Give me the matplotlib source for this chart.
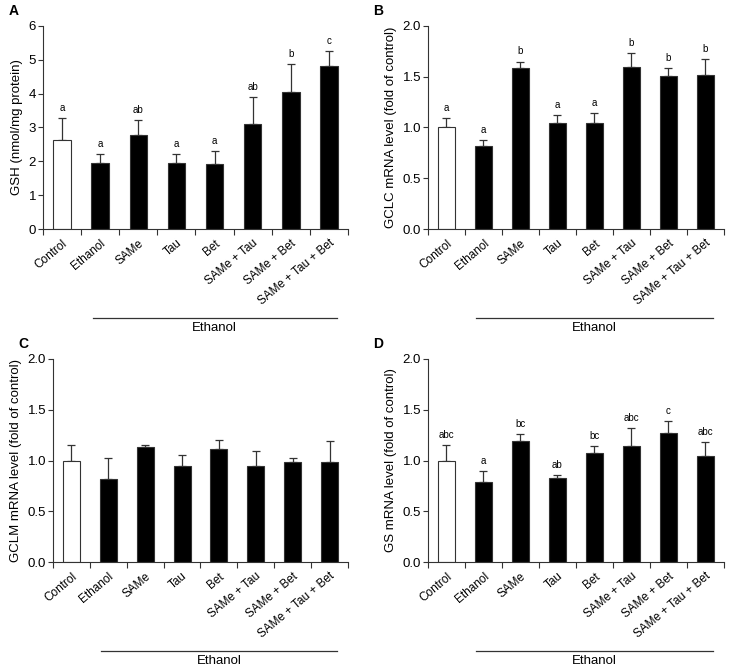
import matplotlib
matplotlib.use("Agg")
import matplotlib.pyplot as plt
import matplotlib.transforms as mtransforms
import numpy as np

plt.rcParams['font.family'] = ['Liberation Sans', 'DejaVu Sans']

groups = ["Control", "Ethanol", "SAMe", "Tau", "Bet",
          "SAMe + Tau", "SAMe + Bet", "SAMe + Tau + Bet"]

# panel A: GSH
gsh_mean = [2.62, 1.94, 2.78, 1.94, 1.93, 3.11, 4.05, 4.82]
gsh_err = [0.65, 0.28, 0.45, 0.27, 0.37, 0.80, 0.83, 0.45]
gsh_sig = ["a", "a", "ab", "a", "a", "ab", "b", "c"]

# panel B: GCLC
gclc_mean = [1.00, 0.82, 1.59, 1.04, 1.04, 1.60, 1.51, 1.52]
gclc_err = [0.09, 0.06, 0.06, 0.08, 0.10, 0.13, 0.08, 0.15]
gclc_sig = ["a", "a", "b", "a", "a", "b", "b", "b"]

# panel C: GCLM
gclm_mean = [1.00, 0.82, 1.13, 0.95, 1.11, 0.95, 0.99, 0.99]
gclm_err = [0.15, 0.20, 0.02, 0.10, 0.09, 0.14, 0.03, 0.20]
gclm_sig = None

# panel D: GS
gs_mean = [1.00, 0.79, 1.19, 0.83, 1.07, 1.14, 1.27, 1.04]
gs_err = [0.15, 0.11, 0.07, 0.03, 0.07, 0.18, 0.12, 0.14]
gs_sig = ["abc", "a", "bc", "ab", "bc", "abc", "c", "abc"]

panels = [
    ("A", gsh_mean, gsh_err, gsh_sig, "GSH (nmol/mg protein)", 6, [0, 1, 2, 3, 4, 5, 6], "{:.0f}",
     [0.0588, 0.6587, 0.4172, 0.3026]),
    ("B", gclc_mean, gclc_err, gclc_sig, "GCLC mRNA level (fold of control)", 2.0, [0, 0.5, 1.0, 1.5, 2.0], "{:.1f}",
     [0.5855, 0.6587, 0.4049, 0.3026]),
    ("C", gclm_mean, gclm_err, gclm_sig, "GCLM mRNA level (fold of control)", 2.0, [0, 0.5, 1.0, 1.5, 2.0], "{:.1f}",
     [0.0725, 0.1624, 0.4035, 0.3026]),
    ("D", gs_mean, gs_err, gs_sig, "GS mRNA level (fold of control)", 2.0, [0, 0.5, 1.0, 1.5, 2.0], "{:.1f}",
     [0.5855, 0.1624, 0.4049, 0.3026]),
]

fig = plt.figure(figsize=(7.31, 6.71), dpi=100)
edge = "#333333"

for letter, mean, err, sig, ylabel, ymax, yticks, fmt, pos in panels:
    ax = fig.add_axes(pos)
    x = np.arange(len(groups))
    colors = ["white"] + ["black"] * (len(groups) - 1)
    ax.bar(x, mean, width=0.46, color=colors, edgecolor=edge, linewidth=0.8, zorder=2)
    ax.errorbar(x, mean, yerr=[np.zeros(len(mean)), err], fmt="none",
                ecolor=edge, elinewidth=0.9, capsize=3, capthick=0.9, zorder=1)
    if sig:
        for xi, m, e, s in zip(x, mean, err, sig):
            ax.text(xi, m + e + ymax * 0.025, s, ha="center", va="bottom", fontsize=7)

    ax.set_xlim(-0.5, len(groups) - 0.5)
    ax.set_ylim(0, ymax)
    ax.set_yticks(yticks)
    ax.set_yticklabels([fmt.format(v) for v in yticks])
    ax.set_xticks(x)
    ax.set_xticklabels(groups, rotation=40, ha="right", rotation_mode="anchor", fontsize=8.5)
    ax.set_xticks(np.arange(-0.5, len(groups)), minor=True)
    ax.tick_params(axis="x", which="major", length=0, pad=6)
    ax.tick_params(axis="x", which="minor", length=4, width=0.8, color=edge)
    ax.tick_params(axis="y", length=3.5, width=0.8, color=edge, labelsize=9.5, pad=1.5)
    ax.spines["top"].set_visible(False)
    ax.spines["right"].set_visible(False)
    ax.spines["left"].set_color(edge)
    ax.spines["bottom"].set_color(edge)
    ax.spines["left"].set_linewidth(0.8)
    ax.spines["bottom"].set_linewidth(0.8)
    ax.set_ylabel(ylabel, fontsize=9.5, labelpad=4)

    trans = mtransforms.blended_transform_factory(ax.transData, ax.transAxes)
    ax.plot([0.8, 7.2], [-0.437, -0.437], color=edge, linewidth=0.9,
            transform=trans, clip_on=False)
    ax.text(4.0, -0.46, "Ethanol", ha="center", va="top", fontsize=9.5, transform=trans)

    fig.text(pos[0] - 0.047 if letter in "AC" else pos[0] - 0.075, pos[1] + pos[3] + 0.012,
             letter, fontsize=10, fontweight="bold", ha="left", va="bottom")

fig.savefig("out.png", dpi=100)
